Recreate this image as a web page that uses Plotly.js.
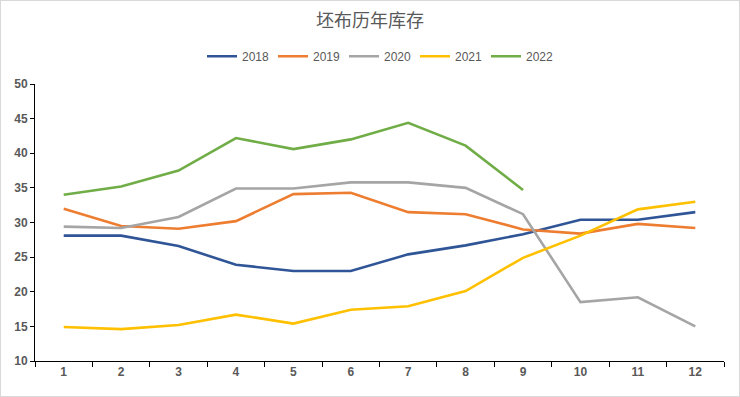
<!DOCTYPE html>
<html><head><meta charset="utf-8">
<script src="https://cdn.plot.ly/plotly-3.0.1.min.js"></script>
<style>html,body{margin:0;padding:0;background:#fff}#c{width:738px;height:395px;border:1px solid #d9d9d9}</style>
</head><body><div id="c"></div>
<script>
const months = ['1','2','3','4','5','6','7','8','9','10','11','12'];
const years = ['2018','2019','2020','2021','2022'];
const s2018 = [28.1,28.1,26.6,23.9,23.0,23.0,25.4,26.7,28.3,30.4,30.4,31.5];
const s2019 = [32.0,29.5,29.1,30.2,34.1,34.3,31.5,31.2,29.0,28.4,29.8,29.2];
const s2020 = [29.4,29.2,30.8,34.9,34.9,35.8,35.8,35.0,31.2,18.5,19.2,15.0];
const s2021 = [14.9,14.6,15.2,16.7,15.4,17.4,17.9,20.1,24.9,28.1,31.9,33.0];
const s2022 = [34.0,35.2,37.5,42.2,40.6,42.0,44.4,41.1,34.7];
const colors = ['#2F5597','#ED7D31','#A5A5A5','#FFC000','#70AD47'];
const series = [s2018,s2019,s2020,s2021,s2022];
const traces = series.map((s,i)=>({
  x: months.slice(0,s.length), y: s, name: years[i], type:'scatter', mode:'lines',
  line:{color:colors[i], width:2.6}
}));
const tickFont = {family:'Liberation Sans Narrow, Arial, sans-serif', size:12, color:'#595959', weight:'bold'};
Plotly.newPlot('c', traces, {
  width:738, height:395,
  margin:{l:34,r:15,t:83,b:35},
  paper_bgcolor:'#fff', plot_bgcolor:'#fff',
  title:{text:'坯布历年库存', x:0.5, xanchor:'center', y:0.95, yanchor:'middle',
    font:{family:'Noto Sans CJK SC, sans-serif', size:18, color:'#595959'}},
  showlegend:true,
  legend:{orientation:'h', x:0.5, xanchor:'center', y:1.1, yanchor:'middle',
    font:{family:'Liberation Sans, Arial, sans-serif', size:12, color:'#595959'}, itemwidth:30, tracegroupgap:0,
    entrywidth:26, entrywidthmode:'pixels'},
  xaxis:{type:'category', range:[-0.5,11.5], tickson:'boundaries', ticks:'outside', ticklen:5, tickcolor:'#000',
    showline:true, linecolor:'#000', linewidth:1, showgrid:false, zeroline:false,
    tickfont:tickFont, fixedrange:true},
  yaxis:{range:[10,50], dtick:5, ticks:'outside', ticklen:4, tickcolor:'#000',
    showline:true, linecolor:'#000', linewidth:1, showgrid:false, zeroline:false,
    tickfont:tickFont, fixedrange:true}
}, {displayModeBar:false, staticPlot:true});
</script></body></html>
